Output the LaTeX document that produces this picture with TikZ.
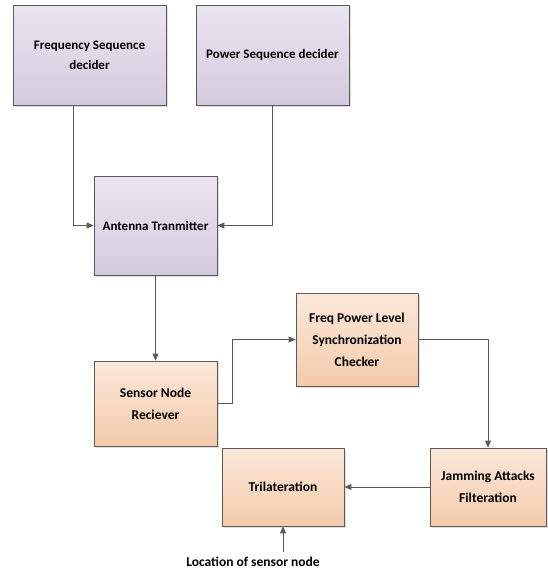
\documentclass[tikz,border=0pt]{standalone}
\usepackage{fontspec}
\setmainfont{Carlito}
\usepackage{xcolor}
\usetikzlibrary{arrows.meta,calc,positioning,shadows}
\definecolor{Line}{HTML}{5A5A5A}
\definecolor{LilacTop}{HTML}{E9E5F0}
\definecolor{LilacBot}{HTML}{D3CCE0}
\definecolor{PeachTop}{HTML}{FBE8DA}
\definecolor{PeachBot}{HTML}{F4CBAA}

\begin{document}
\begin{tikzpicture}[x=1pt,y=-1pt,
  lilac/.style={draw=Line,line width=0.8pt,top color=LilacTop,bottom color=LilacBot,align=center,
    inner sep=2pt,font=\bfseries\fontsize{13}{20}\selectfont,drop shadow={shadow xshift=1.5pt,shadow yshift=-1.5pt,opacity=0.25}},
  peach/.style={lilac,top color=PeachTop,bottom color=PeachBot,font=\bfseries\fontsize{13.5}{22}\selectfont},
  arr/.style={-{Triangle[length=7pt,width=6pt]},line width=0.9pt,color=Line}
]
\useasboundingbox (0,0) rectangle (547,573);
\node[lilac,minimum width=153pt,minimum height=100pt] (fsd) at (89.5,55) {Frequency Sequence\\decider};
\node[lilac,minimum width=153pt,minimum height=100pt] (psd) at (272.5,55) {Power Sequence decider};
\node[lilac,minimum width=123pt,minimum height=99pt] (ant) at (155.5,225.5) {Antenna Tranmitter};
\node[peach,minimum width=123pt,minimum height=85pt] (snr) at (155.5,403.5) {Sensor Node\\Reciever};
\node[peach,minimum width=122pt,minimum height=93pt] (fpl) at (357,339.5) {Freq Power Level\\Synchronization\\Checker};
\node[peach,minimum width=116pt,minimum height=78pt] (jaf) at (488,487) {Jamming Attacks\\Filteration};
\node[peach,minimum width=122pt,minimum height=78pt] (tri) at (283,487) {Trilateration};
\node[font=\bfseries\fontsize{13.5}{16}\selectfont,inner sep=1pt] (loc) at (253,562) {Location of sensor node};

\draw[arr] ($(fsd.south)+(-16.5,0)$) |- (ant.west);
\draw[arr] (psd.south) |- (ant.east);
\draw[arr] (ant.south) -- (snr.north);
\draw[arr] (snr.east) -- ++(15,0) |- (fpl.west);
\draw[arr] (fpl.east) -| (jaf.north);
\draw[arr] (jaf.west) -- (tri.east);
\draw[arr] (loc.north -| tri.south) ++(0,-4) -- (tri.south);
\end{tikzpicture}
\end{document}
